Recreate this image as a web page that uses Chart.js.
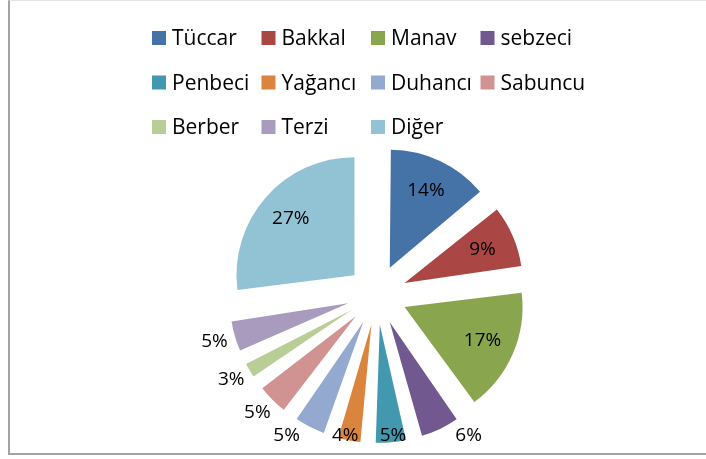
<!DOCTYPE html>
<html><head><meta charset="utf-8">
<script src="https://cdn.jsdelivr.net/npm/chart.js@4"></script>
<style>
html,body{margin:0;padding:0;background:#fff;overflow:hidden;width:706px;height:459px;}
#frame{position:absolute;left:8px;top:0;width:720px;height:452px;border-top:1px solid #e4e4e4;border-left:2px solid #a3a3a3;border-bottom:2px solid #a3a3a3;}
#c{position:absolute;left:0;top:0;}
</style></head><body>
<div id="frame"></div>
<canvas id="c" width="706" height="459"></canvas>
<script>
// ---- data ----
const categories = ['Tüccar','Bakkal','Manav','sebzeci','Penbeci','Yağancı','Duhancı','Sabuncu','Berber','Terzi','Diğer'];
const values = [14, 9, 17, 6, 5, 4, 5, 5, 3, 5, 27];
const colors = ['#4572A7','#AA4643','#89A54E','#71588F','#4198AF','#DB843D','#93A9CF','#D19392','#B9CD96','#A99BBD','#92C3D4'];

const RADIUS = 118;
const EXPLODE = 30; // px translation of each slice

// compensate Chart.js radius growth on offset slices so every slice has the same radius
const explodeFix = {
  id: 'explodeFix',
  afterDatasetsUpdate(chart) {
    const meta = chart.getDatasetMeta(0);
    meta.data.forEach(arc => {
      const off = (arc.options.offset || 0) / 4;
      const circ = arc.circumference;
      const fix = 1 - Math.sin(Math.min(Math.PI, circ));
      arc.outerRadius = RADIUS - off * fix;
    });
  }
};

const gridLegend = {
  id: 'gridLegend',
  afterDraw(chart, args, o) {
    const ctx = chart.ctx;
    ctx.save();
    ctx.font = o.font;
    ctx.textBaseline = 'alphabetic';
    ctx.textAlign = 'left';
    categories.forEach((name, i) => {
      const col = i % o.cols, row = Math.floor(i / o.cols);
      const x = o.x0 + col * o.colW;
      const y = o.y0 + row * o.rowH;
      ctx.fillStyle = colors[i];
      ctx.fillRect(x, y, o.box, o.box);
      ctx.fillStyle = '#000';
      ctx.fillText(name, x + o.box + o.gap, y + o.box + o.baseShift);
    });
    ctx.restore();
  }
};

const pctLabels = {
  id: 'pctLabels',
  afterDatasetsDraw(chart, args, o) {
    const ctx = chart.ctx;
    const meta = chart.getDatasetMeta(0);
    const total = values.reduce((a, b) => a + b, 0);
    ctx.save();
    ctx.font = o.font;
    ctx.fillStyle = '#000';
    ctx.textAlign = 'center';
    ctx.textBaseline = 'middle';
    meta.data.forEach((arc, i) => {
      const mid = (arc.startAngle + arc.endAngle) / 2;
      const dx = Math.cos(mid), dy = Math.sin(mid);
      const off = (arc.options.offset || 0) / 4;
      const vx = arc.x + dx * off, vy = arc.y + dy * off;
      const txt = Math.round(values[i] / total * 100) + '%';
      let cx, cy;
      if (arc.circumference > o.insideMinAngle) {
        cx = vx + dx * RADIUS * o.insideRatio;
        cy = vy + dy * RADIUS * o.insideRatio;
      } else {
        const w = ctx.measureText(txt).width, h = o.h;
        const px = vx + dx * (RADIUS + o.gap), py = vy + dy * (RADIUS + o.gap);
        cx = px + dx * w / 2;
        cy = py + dy * h / 2;
        if (cy > o.maxY) {
          const over = cy - o.maxY;
          cy = o.maxY;
          if (Math.abs(dx) > 0.3) cx += Math.sign(dx) * over * Math.abs(dy / dx);
        }
      }
      ctx.fillText(txt, cx, cy);
    });
    ctx.restore();
  }
};

new Chart(document.getElementById('c'), {
  type: 'pie',
  data: {
    labels: categories,
    datasets: [{
      data: values,
      backgroundColor: colors,
      borderWidth: 0,
      offset: EXPLODE * 4
    }]
  },
  options: {
    responsive: false,
    animation: false,
    radius: RADIUS,
    layout: { padding: { left: 48, right: 0, top: 140, bottom: 9 } },
    plugins: {
      legend: { display: false },
      tooltip: { enabled: false },
      gridLegend: { font: '21px "Open Sans"', cols: 4, x0: 152, colW: 109.5, y0: 31, rowH: 44.5, box: 14, gap: 6, baseShift: 0 },
      pctLabels: { font: '19px "Open Sans"', insideMinAngle: 0.45, insideRatio: 0.72, gap: 8, h: 20, maxY: 436 }
    }
  },
  plugins: [explodeFix, gridLegend, pctLabels]
});
</script>
</body></html>
